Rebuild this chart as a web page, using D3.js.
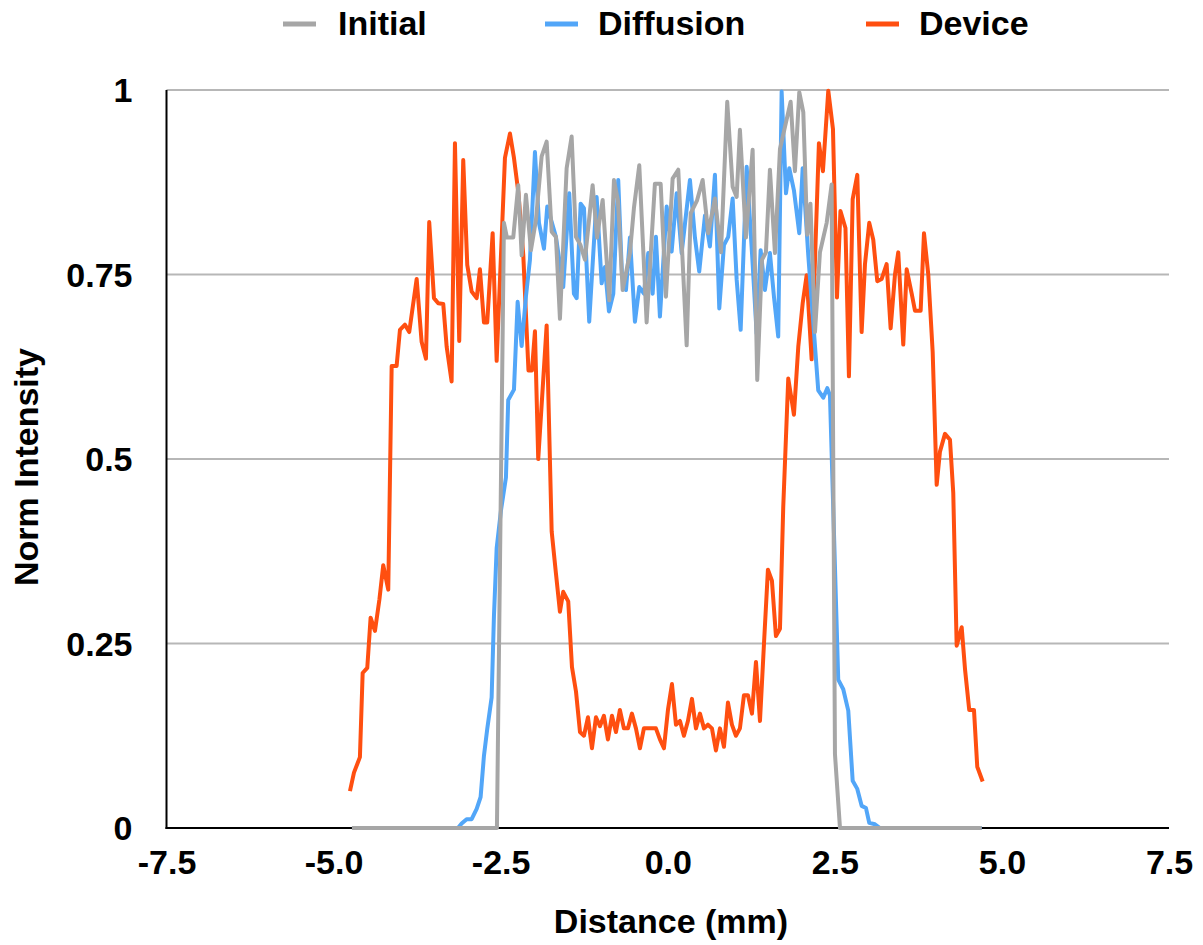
<!DOCTYPE html>
<html>
<head>
<meta charset="utf-8">
<script src="https://cdn.jsdelivr.net/npm/d3@7"></script>
<style>
  html, body { margin: 0; padding: 0; background: #ffffff; }
  svg { display: block; }
  text { font-family: "Liberation Sans", Arial, sans-serif; font-weight: bold; fill: #000; }
</style>
</head>
<body>
<svg id="chart" width="1203" height="945"></svg>
<script>
// Intensity profiles across the channel: [distance (mm), normalised intensity]
const initial = [
  [-4.725, 0], [-2.556, 0], [-2.451, 0.82], [-2.406, 0.80], [-2.312, 0.80], [-2.237, 0.871],
  [-2.186, 0.776], [-2.122, 0.858], [-2.047, 0.783], [-1.972, 0.824], [-1.887, 0.91], [-1.812, 0.93],
  [-1.737, 0.808], [-1.673, 0.801], [-1.613, 0.69], [-1.513, 0.894], [-1.438, 0.937], [-1.374, 0.801],
  [-1.306, 0.79], [-1.239, 0.77], [-1.124, 0.871], [-1.059, 0.80], [-0.974, 0.851], [-0.875, 0.715],
  [-0.805, 0.878], [-0.745, 0.85], [-0.675, 0.729], [-0.566, 0.779], [-0.506, 0.84], [-0.426, 0.898],
  [-0.316, 0.685], [-0.192, 0.873], [-0.106, 0.873], [-0.027, 0.72], [0.073, 0.88], [0.157, 0.892],
  [0.283, 0.654], [0.343, 0.833], [0.437, 0.85], [0.522, 0.878], [0.606, 0.806], [0.706, 0.853],
  [0.796, 0.78], [0.890, 0.984], [0.971, 0.869], [1.031, 0.855], [1.080, 0.946], [1.170, 0.80],
  [1.270, 0.919], [1.339, 0.607], [1.410, 0.77], [1.469, 0.78], [1.529, 0.892], [1.604, 0.779],
  [1.679, 0.92], [1.754, 0.95], [1.839, 0.984], [1.903, 0.89], [1.968, 0.997], [2.028, 0.97],
  [2.087, 0.804], [2.135, 0.846], [2.203, 0.672], [2.277, 0.78], [2.378, 0.82], [2.452, 0.872],
  [2.502, 0.10], [2.577, 0], [4.697, 0]
];

const diffusion = [
  [-4.725, 0], [-3.139, 0], [-3.084, 0.006], [-3.009, 0.012], [-2.934, 0.012], [-2.859, 0.026],
  [-2.800, 0.042], [-2.750, 0.098], [-2.701, 0.134], [-2.635, 0.177], [-2.601, 0.286], [-2.560, 0.379],
  [-2.496, 0.43], [-2.421, 0.475], [-2.387, 0.58], [-2.301, 0.594], [-2.246, 0.713], [-2.186, 0.653],
  [-2.122, 0.72], [-2.062, 0.77], [-1.987, 0.916], [-1.927, 0.82], [-1.852, 0.785], [-1.803, 0.842],
  [-1.733, 0.82], [-1.673, 0.801], [-1.564, 0.733], [-1.474, 0.86], [-1.404, 0.724], [-1.363, 0.718],
  [-1.303, 0.846], [-1.254, 0.84], [-1.175, 0.686], [-1.064, 0.855], [-0.989, 0.738], [-0.940, 0.76],
  [-0.880, 0.70], [-0.815, 0.724], [-0.741, 0.878], [-0.685, 0.75], [-0.625, 0.729], [-0.566, 0.80],
  [-0.491, 0.686], [-0.426, 0.733], [-0.356, 0.724], [-0.292, 0.779], [-0.226, 0.724], [-0.177, 0.801],
  [-0.117, 0.693], [-0.016, 0.842], [0.058, 0.781], [0.133, 0.86], [0.208, 0.779], [0.332, 0.878],
  [0.407, 0.80], [0.471, 0.754], [0.557, 0.83], [0.631, 0.788], [0.706, 0.885], [0.771, 0.704],
  [0.841, 0.79], [0.905, 0.801], [0.971, 0.853], [1.031, 0.743], [1.091, 0.675], [1.181, 0.896],
  [1.260, 0.78], [1.330, 0.67], [1.390, 0.783], [1.454, 0.729], [1.529, 0.779], [1.589, 0.72],
  [1.653, 0.666], [1.704, 0.998], [1.769, 0.86], [1.818, 0.894], [1.888, 0.864], [1.968, 0.806],
  [2.019, 0.894], [2.102, 0.777], [2.177, 0.685], [2.252, 0.593], [2.327, 0.583], [2.387, 0.596],
  [2.427, 0.586], [2.487, 0.40], [2.551, 0.201], [2.626, 0.188], [2.701, 0.159], [2.767, 0.064],
  [2.836, 0.053], [2.901, 0.03], [2.966, 0.027], [3.015, 0.007], [3.100, 0.005], [3.175, 0],
  [4.697, 0]
];

const device = [
  [-4.755, 0.05], [-4.695, 0.075], [-4.606, 0.096], [-4.565, 0.21], [-4.496, 0.217], [-4.446, 0.285],
  [-4.381, 0.267], [-4.314, 0.31], [-4.257, 0.356], [-4.182, 0.323], [-4.131, 0.626], [-4.057, 0.626],
  [-4.007, 0.675], [-3.932, 0.682], [-3.868, 0.672], [-3.757, 0.744], [-3.683, 0.659], [-3.618, 0.636],
  [-3.569, 0.821], [-3.498, 0.718], [-3.434, 0.711], [-3.359, 0.71], [-3.308, 0.652], [-3.234, 0.605],
  [-3.184, 0.928], [-3.120, 0.66], [-3.060, 0.905], [-3.000, 0.763], [-2.934, 0.727], [-2.859, 0.718],
  [-2.810, 0.757], [-2.750, 0.685], [-2.701, 0.685], [-2.620, 0.806], [-2.560, 0.633], [-2.436, 0.908],
  [-2.361, 0.941], [-2.301, 0.908], [-2.234, 0.86], [-2.162, 0.777], [-2.084, 0.62], [-2.032, 0.62],
  [-1.987, 0.673], [-1.938, 0.50], [-1.812, 0.681], [-1.737, 0.402], [-1.673, 0.345], [-1.613, 0.293],
  [-1.564, 0.32], [-1.489, 0.307], [-1.433, 0.218], [-1.373, 0.185], [-1.313, 0.13], [-1.254, 0.125],
  [-1.194, 0.15], [-1.134, 0.108], [-1.074, 0.15], [-1.015, 0.138], [-0.955, 0.152], [-0.895, 0.12],
  [-0.835, 0.152], [-0.775, 0.13], [-0.716, 0.16], [-0.656, 0.135], [-0.596, 0.135], [-0.536, 0.155],
  [-0.476, 0.135], [-0.416, 0.108], [-0.357, 0.135], [-0.297, 0.135], [-0.237, 0.135], [-0.177, 0.135],
  [-0.117, 0.12], [-0.057, 0.108], [0.003, 0.16], [0.063, 0.195], [0.123, 0.14], [0.183, 0.145],
  [0.242, 0.125], [0.302, 0.145], [0.362, 0.175], [0.422, 0.135], [0.482, 0.155], [0.542, 0.135],
  [0.601, 0.14], [0.661, 0.135], [0.721, 0.105], [0.781, 0.135], [0.841, 0.11], [0.901, 0.17],
  [0.960, 0.14], [1.020, 0.125], [1.080, 0.135], [1.140, 0.18], [1.200, 0.18], [1.260, 0.155],
  [1.320, 0.225], [1.380, 0.145], [1.440, 0.25], [1.499, 0.35], [1.559, 0.335], [1.619, 0.26],
  [1.679, 0.27], [1.728, 0.435], [1.803, 0.609], [1.854, 0.58], [1.888, 0.56], [1.953, 0.652],
  [2.019, 0.711], [2.078, 0.749], [2.153, 0.635], [2.262, 0.928], [2.322, 0.89], [2.402, 0.999],
  [2.472, 0.947], [2.532, 0.719], [2.584, 0.836], [2.659, 0.813], [2.711, 0.612], [2.767, 0.852],
  [2.836, 0.885], [2.901, 0.672], [2.951, 0.764], [3.015, 0.82], [3.075, 0.797], [3.135, 0.741],
  [3.201, 0.744], [3.275, 0.764], [3.335, 0.677], [3.400, 0.75], [3.449, 0.78], [3.524, 0.655],
  [3.575, 0.757], [3.650, 0.724], [3.699, 0.701], [3.784, 0.701], [3.834, 0.806], [3.898, 0.75],
  [3.964, 0.645], [4.024, 0.465], [4.073, 0.51], [4.148, 0.534], [4.223, 0.526], [4.272, 0.454],
  [4.323, 0.247], [4.398, 0.272], [4.449, 0.214], [4.511, 0.16], [4.582, 0.16], [4.631, 0.083],
  [4.712, 0.063]
];

const seriesNames = ["Initial", "Diffusion", "Device"];
const seriesColors = ["#a6a6a6", "#52a6f8", "#ff4f10"];
const xTicks = [-7.5, -5.0, -2.5, 0.0, 2.5, 5.0, 7.5];
const yTicks = [0, 0.25, 0.5, 0.75, 1];
const yTickLabels = ["0", "0.25", "0.5", "0.75", "1"];

const svg = d3.select("#chart");
const plot = { left: 166.5, right: 1169, top: 90, bottom: 828 };

const x = d3.scaleLinear().domain([-7.5, 7.5]).range([plot.left, plot.right]);
const y = d3.scaleLinear().domain([0, 1]).range([plot.bottom, plot.top]);

// horizontal gridlines
svg.append("g")
  .selectAll("line")
  .data(yTicks.filter(d => d > 0))
  .join("line")
  .attr("x1", plot.left).attr("x2", plot.right)
  .attr("y1", d => y(d)).attr("y2", d => y(d))
  .attr("stroke", "#b7b7b7").attr("stroke-width", 2);

// y axis labels
const yAxis = d3.axisLeft(y).tickValues(yTicks)
  .tickFormat((d, i) => yTickLabels[i]).tickSize(0).tickPadding(34);
const gy = svg.append("g").attr("transform", `translate(${plot.left},0)`).call(yAxis);
gy.select(".domain").remove();
gy.selectAll("text").attr("font-size", 34).attr("dy", "0.35em")
  .style("font-family", '"Liberation Sans", Arial, sans-serif').style("font-weight", "bold");

// x axis labels
const xAxis = d3.axisBottom(x).tickValues(xTicks).tickFormat(d3.format(".1f")).tickSize(0).tickPadding(22);
const gx = svg.append("g").attr("transform", `translate(0,${plot.bottom})`).call(xAxis);
gx.select(".domain").remove();
gx.selectAll("text").attr("font-size", 34).attr("dy", "0.71em")
  .style("font-family", '"Liberation Sans", Arial, sans-serif').style("font-weight", "bold")
  .text(d => d3.format(".1f")(d).replace("−", "-"));

// axis lines (drawn beneath the data lines)
svg.append("line")
  .attr("x1", plot.left).attr("x2", plot.left).attr("y1", plot.top).attr("y2", plot.bottom + 1)
  .attr("stroke", "#000").attr("stroke-width", 2);
svg.append("line")
  .attr("x1", plot.left - 1).attr("x2", plot.right).attr("y1", plot.bottom).attr("y2", plot.bottom)
  .attr("stroke", "#000").attr("stroke-width", 2);

// data lines
const line = d3.line().x(d => x(d[0])).y(d => y(d[1]));
const seriesData = [initial, diffusion, device];
const drawOrder = [2, 1, 0];
svg.append("g")
  .selectAll("path")
  .data(drawOrder)
  .join("path")
  .attr("d", i => line(seriesData[i]))
  .attr("fill", "none")
  .attr("stroke", i => seriesColors[i])
  .attr("stroke-width", 4)
  .attr("stroke-linejoin", "round")
  .attr("stroke-linecap", "butt");

// axis titles
svg.append("text").attr("x", 671).attr("y", 933).attr("text-anchor", "middle")
  .attr("font-size", 34).text("Distance (mm)");
svg.append("text").attr("transform", "translate(38,467) rotate(-90)").attr("text-anchor", "middle")
  .attr("font-size", 34).text("Norm Intensity");

// legend
const legendPos = [{ sx: 283, tx: 338 }, { sx: 545, tx: 598 }, { sx: 866, tx: 919 }];
const legend = svg.append("g");
legend.selectAll("rect")
  .data(seriesNames)
  .join("rect")
  .attr("x", (d, i) => legendPos[i].sx).attr("y", 21.5)
  .attr("width", 33).attr("height", 5)
  .attr("fill", (d, i) => seriesColors[i]);
legend.selectAll("text")
  .data(seriesNames)
  .join("text")
  .attr("x", (d, i) => legendPos[i].tx).attr("y", 35)
  .attr("font-size", 34).text(d => d);
</script>
</body>
</html>
